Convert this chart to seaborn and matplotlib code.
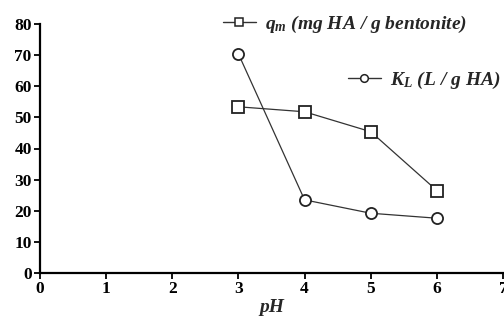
import matplotlib
matplotlib.use("Agg")
import matplotlib.pyplot as plt
import seaborn as sns
import pandas as pd
from matplotlib.lines import Line2D

ph = [3, 4, 5, 6]
qm = [53.4, 51.8, 45.4, 26.5]
kl = [70.4, 23.5, 19.2, 17.6]
x_ticks = [0, 1, 2, 3, 4, 5, 6, 7]
y_ticks = [0, 10, 20, 30, 40, 50, 60, 70, 80]
label_qm = r"$q_m$ (mg HA / g bentonite)"
label_kl = r"$K_L$ (L / g HA)"

sns.set_style("ticks")
plt.rcParams["font.family"] = ["Liberation Serif", "DejaVu Serif"]
plt.rcParams["mathtext.fontset"] = "custom"
plt.rcParams["mathtext.it"] = "Liberation Serif:italic:bold"
plt.rcParams["mathtext.rm"] = "Liberation Serif:bold"

df = pd.DataFrame({"pH": ph * 2, "val": qm + kl,
                   "series": ["qm"] * 4 + ["kl"] * 4})

fig = plt.figure(figsize=(5.04, 3.22), dpi=100)
ax = fig.add_axes([40 / 504, 1 - 273 / 322, 463 / 504, 249 / 322])

lc = "#333333"
sns.lineplot(data=df[df.series == "qm"], x="pH", y="val", ax=ax, color=lc,
             marker="s", markersize=8, markerfacecolor="white",
             markeredgecolor="#222222", markeredgewidth=1.3, linewidth=0.9)
sns.lineplot(data=df[df.series == "kl"], x="pH", y="val", ax=ax, color=lc,
             marker="o", markersize=8, markerfacecolor="white",
             markeredgecolor="#222222", markeredgewidth=1.3, linewidth=0.9)

ax.set_xlim(0, 7)
ax.set_ylim(0, 80)
ax.set_xticks(x_ticks)
ax.set_yticks(y_ticks)
ax.set_xticklabels([str(t) for t in x_ticks], fontweight="bold", fontsize=12.5)
ax.set_yticklabels([str(t) for t in y_ticks], fontweight="bold", fontsize=12.5)
ax.tick_params(direction="out", length=4, width=1.3, colors="black", pad=2)
for s in ["top", "right"]:
    ax.spines[s].set_visible(False)
for s in ["left", "bottom"]:
    ax.spines[s].set_linewidth(1.6)
    ax.spines[s].set_color("black")
ax.set_ylabel("")
ax.set_xlabel("pH", fontsize=14, fontweight="bold", fontstyle="italic", labelpad=1)

h1 = Line2D([], [], color=lc, linewidth=1.0, marker="s", markersize=5.5,
            markerfacecolor="white", markeredgecolor="#222222", markeredgewidth=1.1)
h2 = Line2D([], [], color=lc, linewidth=1.0, marker="o", markersize=5.5,
            markerfacecolor="white", markeredgecolor="#222222", markeredgewidth=1.1)
prop = dict(family="Liberation Serif", weight="bold", style="italic", size=14)
leg1 = ax.legend([h1], [label_qm], loc="center left", bbox_to_anchor=(0.395, 1.0),
                 frameon=False, prop=prop, handlelength=1.7, handletextpad=0.45,
                 borderpad=0, borderaxespad=0)
ax.add_artist(leg1)
leg2 = ax.legend([h2], [label_kl], loc="center left", bbox_to_anchor=(0.665, 0.775),
                 frameon=False, prop=prop, handlelength=1.7, handletextpad=0.45,
                 borderpad=0, borderaxespad=0)

fig.savefig("out.png", dpi=100)
